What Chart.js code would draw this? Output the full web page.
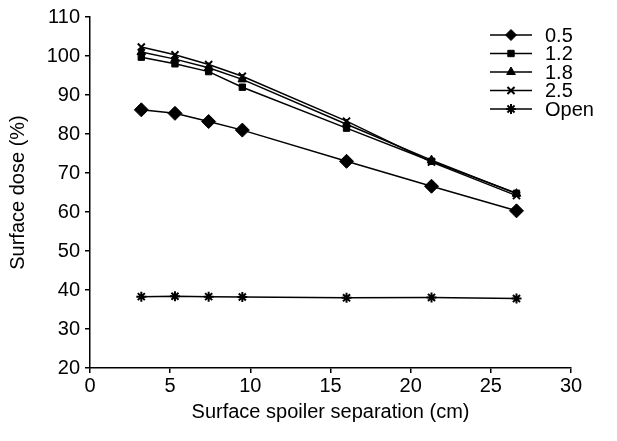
<!DOCTYPE html>
<html>
<head>
<meta charset="utf-8">
<script src="https://cdn.jsdelivr.net/npm/chart.js@4"></script>
<style>
  html, body { margin: 0; padding: 0; background: #fff; }
  #wrap { width: 617px; height: 441px; }
</style>
</head>
<body>
<div id="wrap"><canvas id="doseChart" width="617" height="441"></canvas></div>
<script>
// x positions (cm)
const separation = [3.2, 5.3, 7.4, 9.5, 16.0, 21.3, 26.6];
const seriesNames = ['0.5', '1.2', '1.8', '2.5', 'Open'];
const dose05 = [86.2, 85.3, 83.2, 81.0, 73.0, 66.6, 60.3];
const dose12 = [99.7, 98.0, 96.0, 92.0, 81.5, 73.0, 64.8];
const dose18 = [101.0, 99.2, 97.0, 94.0, 82.5, 73.3, 64.7];
const dose25 = [102.3, 100.3, 97.8, 94.8, 83.3, 72.8, 64.2];
const doseOpen = [38.3, 38.4, 38.3, 38.2, 38.0, 38.1, 37.8];
const xTicks = [0, 5, 10, 15, 20, 25, 30];
const yTicks = [20, 30, 40, 50, 60, 70, 80, 90, 100, 110];

const allDose = [dose05, dose12, dose18, dose25, doseOpen];
const styles = ['rectRot', 'rect', 'triangle', 'crossRot', 'star'];
const radii = [7, 4.5, 5, 5, 5];

const fontFam = '"Liberation Sans", Arial, sans-serif';
const fontSize = 20;

const datasets = allDose.map((vals, i) => ({
    label: seriesNames[i],
    data: vals.map((v, j) => ({ x: separation[j], y: v })),
    borderColor: '#000',
    backgroundColor: '#000',
    borderWidth: 1.5,
    pointStyle: styles[i],
    pointRadius: radii[i],
    pointBorderWidth: (styles[i] === 'crossRot' || styles[i] === 'star') ? 2 : 1,
    tension: 0
}));

// legend drawn as line + marker, like the original figure
const lineLegend = {
    id: 'lineLegend',
    afterDraw(chart) {
        const ctx = chart.ctx;
        ctx.save();
        chart.data.datasets.forEach((ds, i) => {
            const y = 35 + i * 18.5;
            ctx.strokeStyle = '#000';
            ctx.lineWidth = 1.5;
            ctx.beginPath();
            ctx.moveTo(490, y);
            ctx.lineTo(532, y);
            ctx.stroke();
            ctx.fillStyle = '#000';
            ctx.lineWidth = ds.pointBorderWidth;
            Chart.helpers.drawPoint(ctx, {
                pointStyle: ds.pointStyle,
                radius: Math.min(ds.pointRadius, 5.5),
                rotation: 0,
                borderWidth: ds.pointBorderWidth
            }, 511, y);
            ctx.font = fontSize + 'px ' + fontFam;
            ctx.textBaseline = 'middle';
            ctx.textAlign = 'left';
            ctx.fillText(ds.label, 545, y + 1);
        });
        ctx.restore();
    }
};

new Chart(document.getElementById('doseChart'), {
    type: 'line',
    data: { datasets: datasets },
    options: {
        responsive: false,
        animation: false,
        layout: { padding: { left: 6, top: 17, right: 46, bottom: 17 } },
        plugins: {
            legend: { display: false },
            tooltip: { enabled: false }
        },
        scales: {
            x: {
                type: 'linear',
                min: 0,
                max: 30,
                afterBuildTicks: s => { s.ticks = xTicks.map(v => ({ value: v })); },
                afterFit: s => { s.height = 56; },
                border: { display: true, color: '#000', width: 1.5 },
                grid: { display: true, drawOnChartArea: false, drawTicks: true, tickLength: 5, color: '#000', lineWidth: 1.5 },
                ticks: { color: '#000', font: { size: fontSize, family: fontFam }, padding: 1, maxRotation: 0 },
                title: {
                    display: true,
                    text: 'Surface spoiler separation (cm)',
                    color: '#000',
                    font: { size: fontSize, family: fontFam },
                    padding: { top: 4, bottom: 0 }
                }
            },
            y: {
                type: 'linear',
                min: 20,
                max: 110,
                afterBuildTicks: s => { s.ticks = yTicks.map(v => ({ value: v })); },
                afterFit: s => { s.width = 84; },
                border: { display: true, color: '#000', width: 1.5 },
                grid: { display: true, drawOnChartArea: false, drawTicks: true, tickLength: 5, color: '#000', lineWidth: 1.5 },
                ticks: { color: '#000', font: { size: fontSize, family: fontFam }, padding: 5 },
                title: {
                    display: true,
                    text: 'Surface dose (%)',
                    color: '#000',
                    font: { size: fontSize, family: fontFam },
                    padding: { top: 0, bottom: 4 }
                }
            }
        }
    },
    plugins: [lineLegend]
});
</script>
</body>
</html>
